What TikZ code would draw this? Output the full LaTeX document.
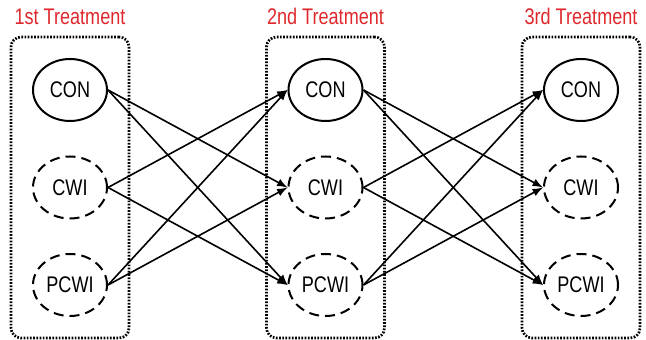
\documentclass[tikz,border=0pt]{standalone}
\usepackage{fontspec}
\setmainfont{Liberation Sans}[FakeStretch=0.8]
\usetikzlibrary{positioning, fit}
\usetikzlibrary{shapes.geometric}
\definecolor{treatred}{RGB}{222,40,45}
\tikzset{
	control/.style={draw, ellipse, line width=1pt, inner sep=0pt, minimum width=37pt, minimum height=31pt, font=\fontsize{11.3}{13}\selectfont},
	washing/.style={control, dash pattern=on 5pt off 3pt},
	% dotted frame round one treatment
	period/.style={draw, line width=1.35pt, dash pattern=on 0.85pt off 0.75pt, rounded corners=5pt, inner sep=10.5pt},
	heading/.style={text=treatred, inner sep=0pt, font=\fontsize{11.3}{13}\selectfont},
}

\begin{document}
\begin{tikzpicture}[node distance=48.75pt]
		\useasboundingbox (0,0) rectangle (323pt,-170pt);
		
		\node (con1) [control] at (35pt,-45pt) {CON};
		\node (cwi1) [washing, below of=con1] {CWI};
		\node (pcwi1) [washing, below of=cwi1] {PCWI};
		
		\node (con2) [control, right of=con1, xshift=79pt] {CON};
		\node (cwi2) [washing, below of=con2] {CWI};
		\node (pcwi2) [washing, below of=cwi2] {PCWI};
		
		\node (con3) [control, right of=con2, xshift=79pt] {CON};
		\node (cwi3) [washing, below of=con3] {CWI};
		\node (pcwi3) [washing, below of=cwi3] {PCWI};
		
		\node (box1) [period, fit=(con1)(pcwi1)] {};
		\node (box2) [period, fit=(con2)(pcwi2)] {};
		\node (box3) [period, fit=(con3)(pcwi3)] {};
		
		\node [heading, above=5.5pt of box1] {1st Treatment};
		\node [heading, above=5.5pt of box2] {2nd Treatment};
		\node [heading, above=5.5pt of box3] {3rd Treatment};
		
		\begin{scope}[thick, black, ->, >=latex]
			\draw (con1.east) -- (cwi2.west);
			\draw (con1.east) -- (pcwi2.west);
			\draw (cwi1.east) -- (con2.west);
			\draw (cwi1.east) -- (pcwi2.west);
			\draw (pcwi1.east) -- (con2.west);
			\draw (pcwi1.east) -- (cwi2.west);
			
			\draw (con2.east) -- (cwi3.west);
			\draw (con2.east) -- (pcwi3.west);
			\draw (cwi2.east) -- (con3.west);
			\draw (cwi2.east) -- (pcwi3.west);
			\draw (pcwi2.east) -- (con3.west);
			\draw (pcwi2.east) -- (cwi3.west);
		\end{scope}
		
	\end{tikzpicture}
\end{document}
